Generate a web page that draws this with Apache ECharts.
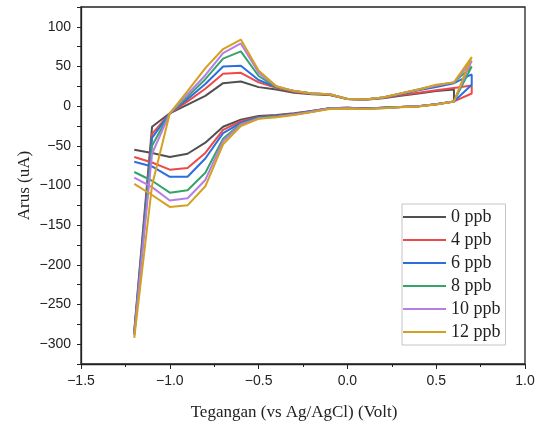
<!DOCTYPE html>
<html>
<head>
<meta charset="utf-8">
<title>CV</title>
<script src="https://cdn.jsdelivr.net/npm/echarts@6/dist/echarts.min.js"></script>
<style>
    html, body { margin: 0; padding: 0; background: #fff; }
    #chart { width: 539px; height: 421px; }
</style>
</head>
<body>
<div id="chart"></div>
<script>
// potential path of the scan: forward -1.2 -> 0.7, then back 0.7 -> -1.2
const volt = [
    -1.2, -1.1, -1.0, -0.9, -0.8, -0.7, -0.6, -0.5, -0.4, -0.3,
    -0.2, -0.1, 0.0, 0.1, 0.2, 0.3, 0.4, 0.5, 0.6, 0.7,
    0.7, 0.6, 0.5, 0.4, 0.3, 0.2, 0.1, 0.0, -0.1, -0.2,
    -0.3, -0.4, -0.5, -0.6, -0.7, -0.8, -0.9, -1.0, -1.1, -1.2
];

const seriesNames = ['0 ppb', '4 ppb', '6 ppb', '8 ppb', '10 ppb', '12 ppb'];

const ppb0 = [
    -283, -26, -9, 2, 13, 29, 31, 24, 21, 17, 15, 14, 9, 8, 10, 13, 16, 19, 21, null,
    null, 6, 2.5, 0, -1, -2, -3, -2, -2.5, -6, -9, -11, -12.5, -17, -26, -46, -60, -64, -59, -55
];
const ppb4 = [
    -285, -35, -9, 6, 22, 41, 42, 30, 23, 18, 16, 14.5, 9, 8.5, 10.5, 14, 17, 20, 23, 26,
    16, 6, 2.5, 0, -1, -2, -3, -2, -2.5, -6, -9.5, -12, -13.5, -19, -30, -59, -78, -80, -71, -64
];
const ppb6 = [
    -287, -40, -9, 9, 28, 50, 51, 33, 24, 19, 16, 15, 9, 8.5, 11, 15, 20, 24, 29, 40,
    27, 6, 2.5, 0, -1, -2, -3, -2, -2.5, -6.5, -10, -12.5, -14, -21, -34, -66, -89, -89, -76, -70
];
const ppb8 = [
    -288, -50, -9, 12, 34, 60, 69, 38, 24, 19, 16, 15, 9, 8.5, 11, 16, 21, 26, 30, 50,
    50, 6, 2.5, 0, -1, -2, -3.5, -2.5, -3, -7, -10.5, -13, -15, -22, -41, -84, -106, -109, -94, -83
];
const ppb10 = [
    -289, -60, -9, 15, 39, 67, 79, 42, 25, 19, 16, 15, 9, 8.5, 11, 16, 21, 26, 30, 57,
    57, 6, 2.5, 0, -1, -2.5, -3.5, -2.5, -3, -7, -10.5, -13.5, -15.5, -23, -44, -93, -116, -119, -102, -90
];
const ppb12 = [
    -292, -100, -9, 19, 48, 72, 84, 45, 25, 19, 16, 15, 9, 8.5, 11, 16, 21, 27, 30, 62,
    62, 6, 2, -0.5, -1.5, -2.5, -3.5, -3, -3.5, -7.5, -11, -14, -16, -25, -48, -101, -125, -127, -112, -98
];

const xTicks = { min: -1.5, max: 1.0, step: 0.5 };
const yTicks = { min: -325, max: 125, step: 25 };

const currents = [ppb0, ppb4, ppb6, ppb8, ppb10, ppb12];
const colors = ['#505050', '#f04848', '#2a6ee0', '#35a468', '#b77de6', '#d4a020'];

const fmt = (v, d) => (v < 0 ? '\u2212' : '') + Math.abs(v).toFixed(d);

const myChart = echarts.init(document.getElementById('chart'));

const seriesData = currents.map((cur, index) => {
    return {
        name: seriesNames[index],
        type: 'line',
        showSymbol: false,
        animation: false,
        lineStyle: { width: 2, color: colors[index] },
        itemStyle: { color: colors[index] },
        data: volt.map((v, i) => [v, cur[i]]).filter(p => p[1] !== null)
    };
});

const option = {
    backgroundColor: '#fff',
    grid: {
        left: 81,
        right: 14,
        top: 7,
        bottom: 57,
        containLabel: false,
        outerBoundsMode: 'none',
        show: true,
        borderColor: '#222',
        borderWidth: 1.3
    },
    legend: {
        orient: 'vertical',
        left: 402,
        top: 204,
        padding: [4, 5, 4, 1],
        itemWidth: 43,
        itemHeight: 2,
        itemGap: 5,
        icon: 'rect',
        borderColor: '#c4c4c4',
        borderWidth: 1,
        backgroundColor: '#fff',
        textStyle: {
            fontFamily: 'Liberation Serif',
            fontSize: 18,
            lineHeight: 18,
            color: '#222'
        },
        data: seriesNames
    },
    xAxis: {
        type: 'value',
        min: xTicks.min,
        max: xTicks.max,
        interval: xTicks.step,
        name: 'Tegangan (vs Ag/AgCl) (Volt)',
        nameLocation: 'middle',
        nameGap: 40,
        nameMoveOverlap: false,
        nameTextStyle: {
            fontFamily: 'Liberation Serif',
            fontSize: 17,
            color: '#222',
            padding: [0, 18, 0, 0]
        },
        axisLine: { show: true, onZero: false, lineStyle: { color: '#222', width: 1.3 } },
        axisTick: { show: true, inside: false, length: 5, lineStyle: { color: '#222' } },
        minorTick: { show: true, splitNumber: 2, length: 3, lineStyle: { color: '#222' } },
        splitLine: { show: false },
        axisLabel: {
            fontFamily: 'Liberation Sans',
            fontSize: 14,
            color: '#222',
            margin: 10,
            formatter: v => fmt(v, 1)
        }
    },
    yAxis: {
        type: 'value',
        min: yTicks.min,
        max: yTicks.max,
        interval: yTicks.step,
        name: 'Arus (uA)',
        nameLocation: 'middle',
        nameRotate: 90,
        nameGap: 48,
        nameMoveOverlap: false,
        nameTextStyle: {
            fontFamily: 'Liberation Serif',
            fontSize: 17,
            color: '#222'
        },
        axisLine: { show: true, onZero: false, lineStyle: { color: '#222', width: 1.3 } },
        axisTick: { show: true, inside: false, length: 4, lineStyle: { color: '#222' } },
        splitLine: { show: false },
        axisLabel: {
            fontFamily: 'Liberation Sans',
            fontSize: 14,
            color: '#222',
            margin: 10,
            showMinLabel: true,
            showMaxLabel: true,
            formatter: v => (v % 50 === 0 ? fmt(v, 0) : '')
        }
    },
    series: seriesData
};

myChart.setOption(option);
</script>
</body>
</html>
